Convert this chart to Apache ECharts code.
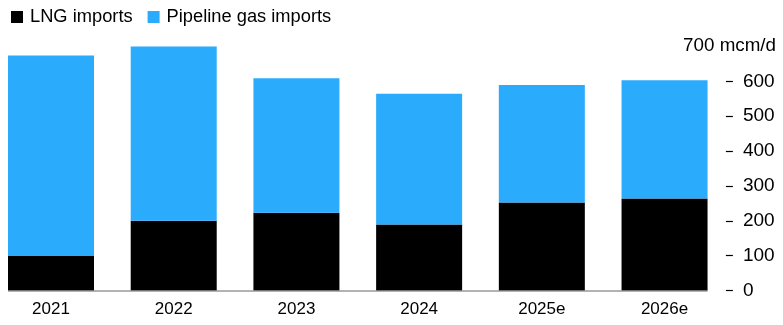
<!DOCTYPE html>
<html>
<head>
<meta charset="utf-8">
<script src="https://cdn.jsdelivr.net/npm/echarts@6/dist/echarts.min.js"></script>
<style>
html,body{margin:0;padding:0;background:#fff;}
#chart{width:783px;height:325px;}
</style>
</head>
<body>
<div id="chart"></div>
<script>
const categories = ['2021', '2022', '2023', '2024', '2025e', '2026e'];
const lngImports = [99, 200, 223, 189, 252, 264];
const pipelineImports = [575, 502, 386, 375, 337, 339];
const yTicks = [0, 100, 200, 300, 400, 500, 600];
const unitLabel = '700 mcm/d';

const FONT = '"Liberation Sans", Arial, Helvetica, sans-serif';
const chart = echarts.init(document.getElementById('chart'), null, {renderer: 'canvas'});
const BAR_W = 86;

chart.setOption({
  animation: false,
  backgroundColor: '#ffffff',
  textStyle: {fontFamily: FONT, color: '#000'},
  title: {
    text: unitLabel,
    right: 7,
    top: 36,
    padding: 0,
    textStyle: {fontFamily: FONT, fontSize: 18.8, fontWeight: 'normal', color: '#000'}
  },
  legend: {
    left: 11,
    top: 8,
    padding: 0,
    icon: 'rect',
    itemWidth: 12,
    itemHeight: 12,
    itemGap: 15,
    selectedMode: false,
    textStyle: {fontFamily: FONT, fontSize: 18.3, color: '#000', padding: [0, 0, 0, 2]},
    data: ['LNG imports', 'Pipeline gas imports']
  },
  grid: {left: -10.35, right: 57.1, top: 46.4, bottom: 34.5, containLabel: false, outerBoundsMode: 'none'},
  xAxis: {
    type: 'category',
    data: categories,
    axisLine: {show: false},
    axisTick: {show: false},
    axisLabel: {fontFamily: FONT, fontSize: 17, color: '#000', margin: 10}
  },
  yAxis: {
    type: 'value',
    position: 'right',
    min: 0,
    max: 700,
    interval: 100,
    splitLine: {show: false},
    axisLine: {show: false},
    axisTick: {show: true, length: 7, inside: false, customValues: yTicks, lineStyle: {color: '#000', width: 1.2}},
    axisLabel: {fontFamily: FONT, fontSize: 19, color: '#000', margin: 17, customValues: yTicks}
  },
  series: [
    {
      name: 'LNG imports',
      type: 'bar',
      stack: 'total',
      barWidth: BAR_W,
      itemStyle: {color: '#000000'},
      data: lngImports
    },
    {
      name: 'Pipeline gas imports',
      type: 'bar',
      stack: 'total',
      barWidth: BAR_W,
      itemStyle: {color: '#2aabfc'},
      data: pipelineImports
    }
  ]
});

// baseline spanning from first bar's left edge to last bar's right edge
const p0 = chart.convertToPixel({xAxisIndex: 0, yAxisIndex: 0}, [0, 0]);
const p1 = chart.convertToPixel({xAxisIndex: 0, yAxisIndex: 0}, [categories.length - 1, 0]);
chart.setOption({
  graphic: [{
    type: 'line',
    shape: {x1: p0[0] - BAR_W / 2, y1: p0[1] + 0.5, x2: p1[0] + BAR_W / 2, y2: p1[1] + 0.5},
    style: {stroke: '#666', lineWidth: 1},
    z: 10
  }]
});
</script>
</body>
</html>
